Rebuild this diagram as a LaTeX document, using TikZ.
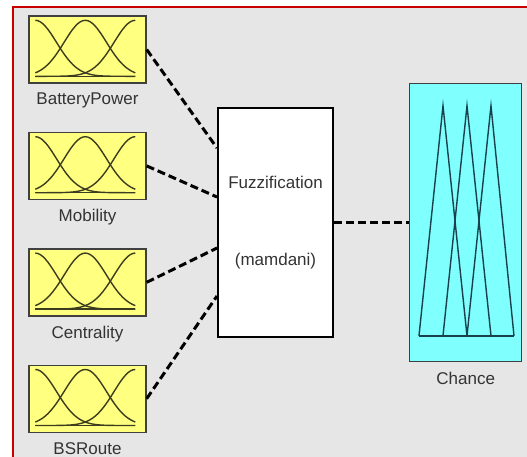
\documentclass[tikz,border=0pt]{standalone}
\usepackage{fontspec}
\setmainfont{Liberation Sans}
\usetikzlibrary{positioning,calc}
\definecolor{panelgray}{RGB}{230,230,230}
\definecolor{panelred}{RGB}{200,0,0}
\definecolor{inyellow}{RGB}{255,255,128}
\definecolor{outcyan}{RGB}{128,255,255}
\definecolor{curveolive}{RGB}{60,60,30}
\definecolor{curveteal}{RGB}{25,65,75}
\tikzset{
  inbox/.style={
    rectangle,
    draw=black!75,
    line width=0.7pt,
    fill=inyellow,
    minimum width=58.5pt,
    minimum height=33.5pt,
    inner sep=0pt
  },
  outbox/.style={
    rectangle,
    draw=black!75,
    line width=0.7pt,
    fill=outcyan,
    minimum width=56pt,
    minimum height=139pt,
    inner sep=0pt
  },
  rulebox/.style={
    rectangle,
    draw=black,
    line width=1pt,
    fill=white,
    align=center,
    minimum width=57.5pt,
    minimum height=114.5pt,
    font=\fontsize{8.5}{10}\selectfont,
    text=black!80
  },
  varname/.style={
    inner sep=0pt,
    font=\fontsize{8.5}{10}\selectfont,
    text=black!80
  },
  mfcurve/.style={
    draw=curveolive,
    line width=0.7pt
  },
  tricurve/.style={
    draw=curveteal,
    line width=0.7pt
  },
  dashlink/.style={
    draw=black,
    line width=1.5pt,
    dash pattern=on 4pt off 2pt
  }
}
% three gaussian sets inside an input box
\newcommand{\gaussset}[1]{%
  \begin{scope}[shift={(#1.north west)}]
    \foreach \c in {0,0.5,1}
      \draw[mfcurve] plot[domain=0:1, samples=41, smooth]
        ({7+100*\x}, {61-56*exp(-((\x-\c)^2)/0.09)});
    \draw[mfcurve] (7,61) -- (107,61);
  \end{scope}}
% three triangles inside the output box
\newcommand{\triset}[1]{%
  \begin{scope}[shift={(#1.north west)}]
    \draw[tricurve] (10,253) -- (34,23) -- (58,253);
    \draw[tricurve] (34,253) -- (58,23) -- (82,253);
    \draw[tricurve] (58,253) -- (82,23) -- (105,253);
    \draw[tricurve] (10,253) -- (105,253);
  \end{scope}}

\begin{document}
\begin{tikzpicture}[x=0.5pt, y=-0.5pt]
\useasboundingbox (0,0) rectangle (527,457);
\fill[white] (0,0) rectangle (527,457);
\fill[panelgray] (13,7) rectangle (527,457);
\draw[panelred, line width=1pt] (13,457) -- (13,7) -- (527,7);

% inputs
\node[inbox] (bp) at (87.5,49.5) {};
\node[varname, below=4.5pt of bp] (bplabel) {BatteryPower};
\node[inbox, below=24pt of bp] (mob) {};
\node[varname, below=4.5pt of mob] (moblabel) {Mobility};
\node[inbox, below=24pt of mob] (cen) {};
\node[varname, below=4.5pt of cen] (cenlabel) {Centrality};
\node[inbox, below=24pt of cen] (bsr) {};
\node[varname, below=4.5pt of bsr] (bsrlabel) {BSRoute};
\gaussset{bp}
\gaussset{mob}
\gaussset{cen}
\gaussset{bsr}

% rule block and output
\node[rulebox] (fuzz) at (275.5,222.5) {Fuzzification\\[28.5pt](mamdani)};
\node[outbox, right=37.5pt of fuzz] (chance) {};
\node[varname, below=5pt of chance] (chancelabel) {Chance};
\triset{chance}

\draw[dashlink] (bp.east) -- ($(fuzz.west)+(0,-74.5)$);
\draw[dashlink] (mob.east) -- ($(fuzz.west)+(0,-25.5)$);
\draw[dashlink] (cen.east) -- ($(fuzz.west)+(0,25.5)$);
\draw[dashlink] (bsr.east) -- ($(fuzz.west)+(0,73.5)$);
\draw[dashlink] (fuzz.east) -- (chance.west);
\end{tikzpicture}
\end{document}
